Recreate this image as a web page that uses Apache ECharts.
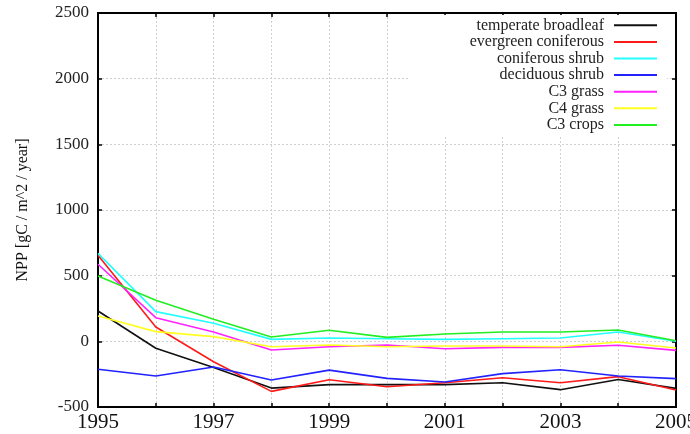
<!DOCTYPE html>
<html><head><meta charset="utf-8">
<script src="https://cdn.jsdelivr.net/npm/echarts@6/dist/echarts.min.js"></script>
<style>html,body{margin:0;padding:0;background:#fff}#c{width:690px;height:434px}</style>
</head><body><div id="c"></div>
<script>
const years = [1995,1996,1997,1998,1999,2000,2001,2002,2003,2004,2005];
const seriesNames = ["temperate broadleaf","evergreen coniferous","coniferous shrub","deciduous shrub","C3 grass","C4 grass","C3 crops"];
const temperateBroadleaf = [231, -53, -200, -356, -330, -330, -330, -315, -368, -290, -358];
const evergreenConiferous = [655, 109, -155, -381, -292, -346, -315, -277, -315, -269, -371];
const coniferousShrub = [670, 226, 137, 15, 25, 20, 15, 20, 25, 71, 0];
const deciduousShrub = [-213, -264, -196, -295, -219, -282, -310, -246, -216, -264, -284];
const c3Grass = [587, 180, 71, -66, -41, -28, -56, -46, -46, -30, -69];
const c4Grass = [193, 74, 36, -41, -28, -41, -36, -36, -41, -5, -51];
const c3Crops = [498, 312, 168, 33, 84, 30, 56, 71, 71, 86, 5];
const yTicks = [-500, 0, 500, 1000, 1500, 2000, 2500];
const yAxisTitle = "NPP [gC / m^2 / year]";

const allValues = [temperateBroadleaf, evergreenConiferous, coniferousShrub, deciduousShrub, c3Grass, c4Grass, c3Crops];
const colors = ['#111111','#ff1a1a','#22ffff','#2222ff','#ff22ff','#ffff22','#22ee22'];
const font = '"Liberation Serif", "DejaVu Serif", serif';

const chart = echarts.init(document.getElementById('c'));
const gridLine = {show:true, lineStyle:{color:'#cfcfcf', type:[2,2], width:1}};
const tick = {show:true, inside:true, length:4, lineStyle:{color:'#000', width:1.5}};
chart.setOption({
  animation:false,
  backgroundColor:'#fff',
  grid:{left:98, top:13, right:14, bottom:27, show:true, borderColor:'#000', borderWidth:2,
        containLabel:false, outerBoundsMode:'none'},
  legend:{
    orient:'vertical', right:23, top:15, align:'right',
    backgroundColor:'#fff',
    padding:[2,10,3,60],
    itemGap:0, itemWidth:43, itemHeight:2, icon:'rect',
    textStyle:{fontFamily:font, fontSize:16, color:'#222', lineHeight:16.6, padding:[0,5,0,0]},
    data:seriesNames
  },
  xAxis:[{
    type:'value', min:1995, max:2005, interval:1,
    axisLine:{show:true, onZero:false, lineStyle:{color:'#000', width:2}},
    axisTick:tick,
    splitLine:gridLine,
    axisLabel:{fontFamily:font, fontSize:21, color:'#111', margin:5,
      formatter:v => ((v-years[0])%2===0 ? String(v) : '')}
  },{
    type:'value', position:'top', min:1995, max:2005, interval:1,
    axisLine:{show:true, onZero:false, lineStyle:{color:'#000', width:2}},
    axisTick:tick, axisLabel:{show:false}, splitLine:{show:false}
  }],
  yAxis:[{
    type:'value', min:yTicks[0], max:yTicks[yTicks.length-1], interval:500,
    name:yAxisTitle, nameLocation:'middle', nameGap:67, nameRotate:90,
    nameTextStyle:{fontFamily:font, fontSize:16, color:'#111'},
    axisLine:{show:true, onZero:false, lineStyle:{color:'#000', width:2}},
    axisTick:tick,
    splitLine:gridLine,
    axisLabel:{fontFamily:font, fontSize:17, color:'#222', margin:9, formatter:v => String(v)}
  },{
    type:'value', position:'right', min:yTicks[0], max:yTicks[yTicks.length-1], interval:500,
    axisLine:{show:true, onZero:false, lineStyle:{color:'#000', width:2}},
    axisTick:tick, axisLabel:{show:false}, splitLine:{show:false}
  }],
  series: seriesNames.map((n,i)=>({
    name:n, type:'line', xAxisIndex:0, yAxisIndex:0,
    showSymbol:false, symbol:'none',
    data: years.map((y,j)=>[y, allValues[i][j]]),
    lineStyle:{color:colors[i], width:1.6},
    itemStyle:{color:colors[i]}
  }))
});
</script></body></html>
